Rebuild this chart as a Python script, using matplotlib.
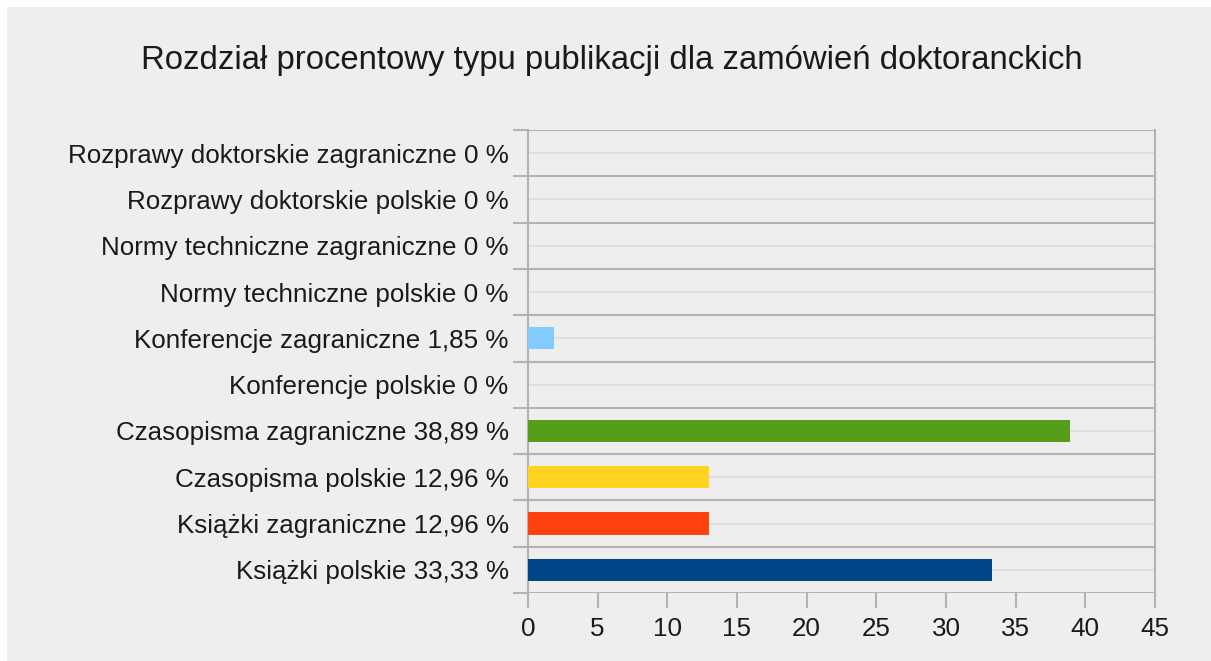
import matplotlib
matplotlib.use("Agg")
import matplotlib.pyplot as plt
from matplotlib.patches import Rectangle
import numpy as np

plt.rcParams['font.family'] = ['Liberation Sans', 'DejaVu Sans']

categories = ["Książki polskie", "Książki zagraniczne", "Czasopisma polskie",
              "Czasopisma zagraniczne", "Konferencje polskie", "Konferencje zagraniczne",
              "Normy techniczne polskie", "Normy techniczne zagraniczne",
              "Rozprawy doktorskie polskie", "Rozprawy doktorskie zagraniczne"]
values = [33.33, 12.96, 12.96, 38.89, 0, 1.85, 0, 0, 0, 0]
value_labels = ["33,33", "12,96", "12,96", "38,89", "0", "1,85", "0", "0", "0", "0"]
colors = ["#004586", "#ff420e", "#ffd320", "#579d1c", "#7e0021", "#83caff",
          "#314004", "#aecf00", "#4b1f6f", "#ff950e"]
xticks = [0, 5, 10, 15, 20, 25, 30, 35, 40, 45]
title = "Rozdział procentowy typu publikacji dla zamówień doktoranckich"

fig = plt.figure(figsize=(12.11, 6.61), dpi=100, facecolor="#eeeeee")
fig.patches.append(Rectangle((0, 0), 7/1211, 1.01, transform=fig.transFigure,
                             facecolor="white", edgecolor="none", zorder=-10))
fig.patches.append(Rectangle((0, 1 - 7/661), 1.01, 0.02, transform=fig.transFigure,
                             facecolor="white", edgecolor="none", zorder=-10))

ax = fig.add_axes([528/1211, 68/661, (1155-528)/1211, (593-130)/661])
ax.set_facecolor("#eeeeee")
y = np.arange(len(categories))
ax.barh(y, values, height=0.48, color=colors, zorder=3)
ax.set_xlim(0, 45)
ax.set_ylim(-0.5, len(categories) - 0.5)

labels = [f"{c} {v} %" for c, v in zip(categories, value_labels)]
ax.set_yticks(y)
ax.set_yticklabels(labels, fontsize=18.7, color="#1a1a1a")
ax.tick_params(axis='y', length=0, pad=14)
ax.set_yticks(np.arange(-0.5, len(categories), 1), minor=True)
ax.tick_params(axis='y', which='minor', length=11, color="#b3b3b3", width=1.5)

ax.set_xticks(xticks)
ax.set_xticklabels([str(t) for t in xticks], fontsize=18.7, color="#1a1a1a")
ax.tick_params(axis='x', length=11, color="#b3b3b3", width=1.5, pad=6)

for yy in np.arange(-0.5, len(categories), 1):
    ax.axhline(yy, color="#b3b3b3", lw=1.5, zorder=1)
for yy in y:
    ax.axhline(yy, color="#dddddd", lw=1.2, zorder=1)

for s in ["top", "bottom"]:
    ax.spines[s].set_visible(False)
for s in ["left", "right"]:
    ax.spines[s].set_color("#b3b3b3")
    ax.spines[s].set_linewidth(1.5)

fig.text(612/1211, 1 - 60/661, title, ha="center", va="center", fontsize=23.7, color="#1a1a1a")

fig.savefig("out.png", dpi=100, facecolor=fig.get_facecolor())
